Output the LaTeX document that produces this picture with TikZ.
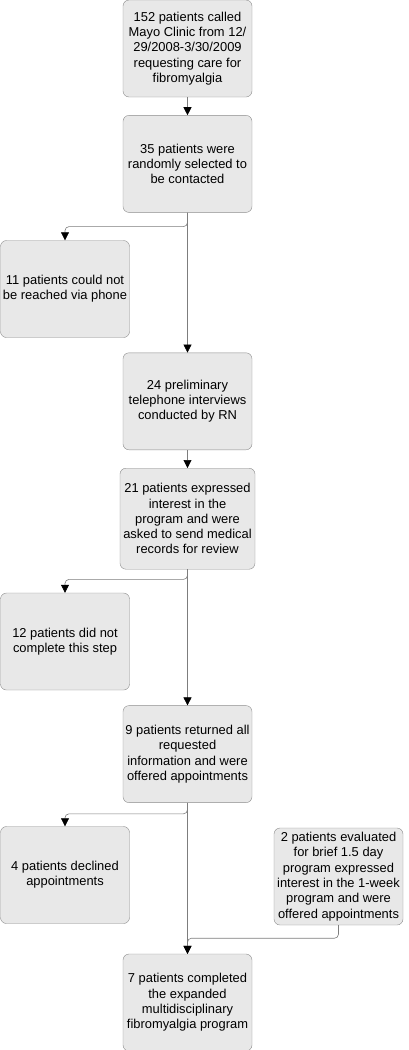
\documentclass[tikz,border=0pt]{standalone}
\usepackage{fontspec}
\setmainfont{Liberation Sans}
\usetikzlibrary{positioning, arrows.meta}
\definecolor{caja}{RGB}{232, 232, 232}
\definecolor{borde}{RGB}{140, 140, 140}
\definecolor{linea}{RGB}{125, 125, 125}
\tikzset{
    paso/.style={draw=borde, fill=caja, rounded corners=6pt, align=center, minimum width=129pt, minimum height=97pt, inner sep=2pt, font=\fontsize{12.9}{15.3}\selectfont},
    conn/.style={draw=linea, line width=0.6pt, -{Triangle[width=8pt, length=8pt, color=black]}},
    rama/.style={conn, rounded corners=4pt},
}
\begin{document}
\begin{tikzpicture}[node distance=18pt]
    \useasboundingbox (0,0) rectangle (408pt,-1050pt);

    % main column
    \node [paso] (llam) at (187.5pt,-48.5pt) {152 patients called\\Mayo Clinic from 12/\\29/2008-3/30/2009\\requesting care for\\fibromyalgia};
    \node [paso, below=of llam] (sel) {35 patients were\\randomly selected to\\be contacted};
    \node [paso, below=140pt of sel] (entr) {24 preliminary\\telephone interviews\\conducted by RN};
    \node [paso, minimum width=135pt, minimum height=101pt, below=of entr] (inte) {21 patients expressed\\interest in the\\program and were\\asked to send medical\\records for review};
    \node [paso, below=136pt of inte] (cita) {9 patients returned all\\requested\\information and were\\offered appointments};
    \node [paso, below=151pt of cita] (fin) {7 patients completed\\the expanded\\multidisciplinary\\fibromyalgia program};

    % side boxes
    \node [paso] (noal) at (65pt,-289pt) {11 patients could not\\be reached via phone};
    \node [paso] (noco) at (65pt,-641.5pt) {12 patients did not\\complete this step};
    \node [paso] (decl) at (65pt,-875pt) {4 patients declined\\appointments};
    \node [paso] (brev) at (338.5pt,-876.5pt) {2 patients evaluated\\for brief 1.5 day\\program expressed\\interest in the 1-week\\program and were\\offered appointments};

    \draw[conn] (llam) -- (sel);
    \draw[conn] (sel) -- (entr);
    \draw[conn] (entr) -- (inte);
    \draw[conn] (inte) -- (cita);
    \draw[conn] (cita) -- (fin);

    \draw[rama] (sel.south) -- ++(0,-14pt) -| (noal.north);
    \draw[rama] (inte.south) -- ++(0,-10pt) -| (noco.north);
    \draw[rama] (cita.south) -- ++(0,-11pt) -| (decl.north);
    \draw[rama] (brev.south) -- ++(0,-13pt) -| (fin.north);
\end{tikzpicture}
\end{document}
